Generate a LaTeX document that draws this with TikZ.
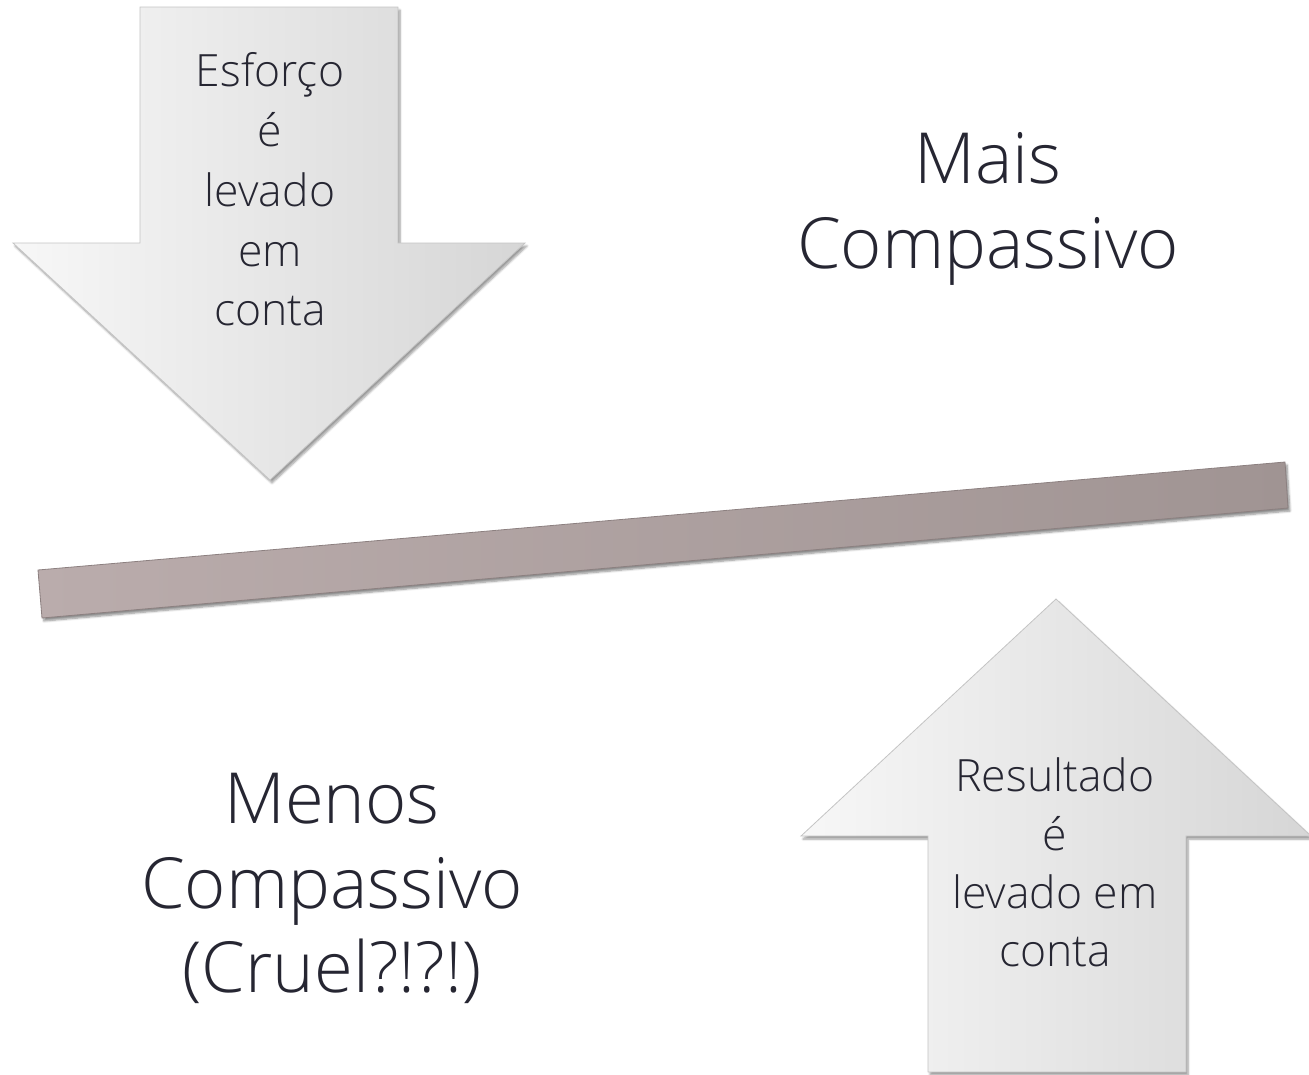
\documentclass[tikz,border=0pt]{standalone}
\usepackage{fontspec}
\setmainfont{Open Sans}[UprightFont={* Light}]
\usetikzlibrary{shadows.blur}
\definecolor{txtc}{RGB}{38,38,50}
\definecolor{arrL}{RGB}{247,247,247}
\definecolor{arrR}{RGB}{214,214,214}
\definecolor{arrE}{RGB}{196,196,196}
\definecolor{barL}{RGB}{186,172,172}
\definecolor{barR}{RGB}{160,148,147}
\definecolor{barE}{RGB}{140,128,128}
\tikzset{
  bigarrow/.style={draw=arrE, line width=0.8pt, left color=arrL, right color=arrR,
    blur shadow={shadow xshift=2pt, shadow yshift=-3pt, shadow blur steps=6, shadow opacity=40}},
  beam/.style={draw=barE, line width=0.8pt, left color=barL, right color=barR,
    blur shadow={shadow xshift=2pt, shadow yshift=-3pt, shadow blur steps=6, shadow opacity=45}},
  smalltxt/.style={anchor=base, inner sep=0pt, text=txtc, font=\fontsize{44.5}{50}\selectfont},
  bigtxt/.style={anchor=base, inner sep=0pt, text=txtc, font=\fontsize{70.5}{80}\selectfont},
}
\begin{document}
\begin{tikzpicture}[x=1pt, y=-1pt]
\useasboundingbox (0,0) rectangle (1309,1074);
% down arrow
\coordinate (dA) at (140,7);
\coordinate (dB) at (398,7);
\coordinate (dC) at (398,243);
\coordinate (dD) at (525,243);
\coordinate (dT) at (270,480);
\coordinate (dE) at (13,243);
\coordinate (dF) at (140,243);
\path[bigarrow] (dA) -- (dB) -- (dC) -- (dD) -- (dT) -- (dE) -- (dF) -- cycle;
% up arrow
\coordinate (uT) at (1056,599);
\coordinate (uA) at (1311,836);
\coordinate (uB) at (1186,836);
\coordinate (uC) at (1186,1072);
\coordinate (uD) at (928,1072);
\coordinate (uE) at (928,836);
\coordinate (uF) at (801,836);
\path[bigarrow] (uT) -- (uA) -- (uB) -- (uC) -- (uD) -- (uE) -- (uF) -- cycle;
% beam
\coordinate (bA) at (38,570);
\coordinate (bB) at (1285,462);
\coordinate (bC) at (1288,508);
\coordinate (bD) at (42,618);
\path[beam] (bA) -- (bB) -- (bC) -- (bD) -- cycle;
% texts in down arrow
\node[smalltxt] (e1) at (270,86) {Esforço};
\node[smalltxt] (e2) at (270,146) {é};
\node[smalltxt] (e3) at (270,206) {levado};
\node[smalltxt] (e4) at (270,266) {em};
\node[smalltxt] (e5) at (270,325) {conta};
% texts in up arrow
\node[smalltxt] (r1) at (1055,791) {Resultado};
\node[smalltxt] (r2) at (1055,850) {é};
\node[smalltxt] (r3) at (1055,908) {levado em};
\node[smalltxt] (r4) at (1055,966) {conta};
% big labels
\node[bigtxt] (m1) at (988,183) {Mais};
\node[bigtxt] (m2) at (988,268) {Compassivo};
\node[bigtxt] (n1) at (332,823) {Menos};
\node[bigtxt] (n2) at (332,908) {Compassivo};
\node[bigtxt] (n3) at (332,992) {(Cruel?!?!)};
\end{tikzpicture}
\end{document}
